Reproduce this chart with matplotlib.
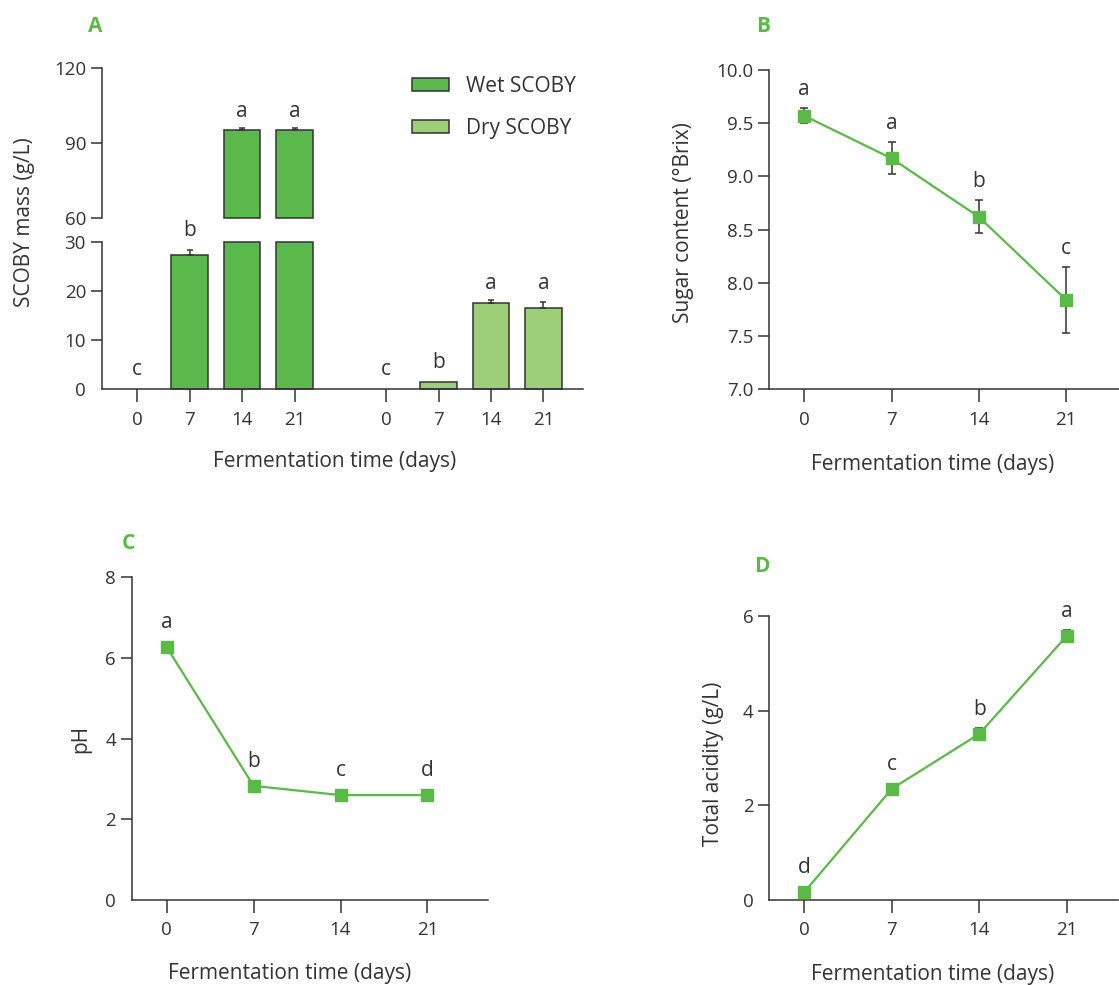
import matplotlib
matplotlib.use('Agg')
import matplotlib.pyplot as plt
from matplotlib.patches import Patch
import numpy as np

plt.rcParams['font.family'] = ['Open Sans', 'DejaVu Sans']

# ---------------- data ----------------
days = [0, 7, 14, 21]
day_labels = ['0', '7', '14', '21']

wet_mass = [0.0, 27.3, 95.0, 95.0]
wet_err = [0.0, 1.1, 1.0, 1.0]
wet_letters = ['c', 'b', 'a', 'a']
dry_mass = [0.0, 1.5, 17.6, 16.6]
dry_err = [0.0, 0.0, 0.6, 1.1]
dry_letters = ['c', 'b', 'a', 'a']

sugar = [9.57, 9.17, 8.62, 7.84]
sugar_err = [0.07, 0.15, 0.155, 0.31]
sugar_letters = ['a', 'a', 'b', 'c']

ph = [6.27, 2.83, 2.60, 2.60]
ph_letters = ['a', 'b', 'c', 'd']

acid = [0.17, 2.35, 3.51, 5.58]
acid_err = [0.0, 0.0, 0.12, 0.13]
acid_letters = ['d', 'c', 'b', 'a']

# ---------------- style ----------------
W, H = 1119, 985
DK = '#333333'
GREEN = '#5bb947'
WET = '#5bb84b'
DRY = '#9ccf78'
FS = 15      # axis labels, legend
TFS = 13.5   # tick labels
LFS = 15     # significance letters
LW = 1.1

fig = plt.figure(figsize=(W / 100, H / 100), dpi=100)


def ax_px(l, r, t, b):
    return fig.add_axes([l / W, 1 - b / H, (r - l) / W, (b - t) / H])


def style(ax, left_only=False):
    for s in ['top', 'right']:
        ax.spines[s].set_visible(False)
    for s in ['left', 'bottom']:
        ax.spines[s].set_color(DK)
        ax.spines[s].set_linewidth(LW)
    if left_only:
        ax.spines['bottom'].set_visible(False)
        ax.set_xticks([])
    ax.tick_params(axis='x', direction='out', length=9.4, width=LW, color=DK,
                   labelsize=TFS, labelcolor=DK, pad=6)
    ax.tick_params(axis='y', direction='out', length=8, width=LW, color=DK,
                   labelsize=TFS, labelcolor=DK, pad=3.5)
    ax.patch.set_visible(False)


def px_per_unit(ax):
    a = ax.transData.transform((0, 0))[1]
    b = ax.transData.transform((0, 1))[1]
    return b - a


# ---------------- panel A (broken axis) ----------------
pos_wet = np.array([0, 1, 2, 3], dtype=float)
pos_dry = pos_wet + 4.75
bw = 0.7
xl = (-0.674, 8.506)

axT = ax_px(102, 583, 67.7, 218.3)
axB = ax_px(102, 583, 241.7, 389.3)
for a in (axT, axB):
    a.set_xlim(*xl)
axT.set_ylim(60, 120)
axB.set_ylim(0, 30)
style(axT, left_only=True)
style(axB)
axT.set_yticks([60, 90, 120])
axB.set_yticks([0, 10, 20, 30])
axB.yaxis.get_major_ticks()[0].tick1line.set_visible(False)
axB.set_xticks(list(pos_wet) + list(pos_dry))
axB.set_xticklabels(day_labels + day_labels)

for pos, vals, errs, col, lets in [(pos_wet, wet_mass, wet_err, WET, wet_letters),
                                   (pos_dry, dry_mass, dry_err, DRY, dry_letters)]:
    vals = np.array(vals)
    errs = np.array(errs)
    low = np.minimum(vals, 30)
    bars = axB.bar(pos, low, width=bw, color=col, edgecolor=DK, linewidth=LW, zorder=2)
    for b, v in zip(bars, vals):
        b.set_clip_on(False)
        if v <= 0:
            b.set_visible(False)
    hi = vals > 60
    if hi.any():
        bt = axT.bar(pos[hi], vals[hi] - 60, bottom=60, width=bw, color=col,
                     edgecolor=DK, linewidth=LW, zorder=2)
        for b in bt:
            b.set_clip_on(False)
    for p, v, e, s in zip(pos, vals, errs, lets):
        target = axT if v > 60 else axB
        if e > 0:
            target.errorbar([p], [v], yerr=[[0], [e]], fmt='none', ecolor=DK,
                            elinewidth=LW, capsize=2.5, capthick=LW, zorder=3)
            gap = e * px_per_unit(target) + 8
        else:
            gap = 14
        target.annotate(s, xy=(p, v + e), xytext=(0, gap * 0.72),
                        textcoords='offset points', ha='center', va='baseline',
                        fontsize=LFS, color=DK, annotation_clip=False)

fig.text(24.6 / W, 1 - 221.7 / H, 'SCOBY mass (g/L)', rotation=90, ha='center',
         va='center', fontsize=FS, color=DK)
axB.set_xlabel('Fermentation time (days)', fontsize=FS, color=DK, va='center')
axB.xaxis.set_label_coords(0.484, -0.49)

leg = axB.legend(handles=[Patch(facecolor=WET, edgecolor=DK, linewidth=LW),
                          Patch(facecolor=DRY, edgecolor=DK, linewidth=LW)],
                 labels=['Wet SCOBY', 'Dry SCOBY'], loc='upper left',
                 bbox_to_anchor=(411.7 / W, 1 - 76.0 / H), bbox_transform=fig.transFigure,
                 frameon=False, borderpad=0, borderaxespad=0, fontsize=FS,
                 handlelength=1.78, handleheight=0.625, handletextpad=0.82,
                 labelspacing=1.0)
for t in leg.get_texts():
    t.set_color(DK)


# ---------------- line panels ----------------
def line_panel(ax, vals, errs, letters, ylim, yticks, yfmt, xlim, ylabel,
               ylab_xy, xlab_xy, zero_tick=False):
    ax.set_xlim(*xlim)
    ax.set_ylim(*ylim)
    style(ax)
    ax.set_yticks(yticks)
    ax.set_yticklabels([yfmt.format(v) for v in yticks])
    if not zero_tick:
        ax.yaxis.get_major_ticks()[0].tick1line.set_visible(False)
    ax.set_xticks(days)
    ax.set_xticklabels(day_labels)
    if errs is not None:
        ax.errorbar(days, vals, yerr=errs, fmt='none', ecolor=DK, elinewidth=LW,
                    capsize=3.2, capthick=LW, zorder=2)
    ax.plot(days, vals, color=GREEN, lw=1.6, marker='s', markersize=8.6,
            markerfacecolor=GREEN, markeredgecolor=GREEN, zorder=3, clip_on=False)
    ppu = px_per_unit(ax)
    for i, (x, v, s) in enumerate(zip(days, vals, letters)):
        e = errs[i] if errs is not None else 0
        gap = max(e * ppu, 6) + 13
        ax.annotate(s, xy=(x, v), xytext=(0, gap * 0.72), textcoords='offset points',
                    ha='center', va='baseline', fontsize=LFS, color=DK,
                    annotation_clip=False)
    ax.set_ylabel(ylabel, fontsize=FS, color=DK, va='center')
    ax.yaxis.set_label_coords(*ylab_xy)
    ax.set_xlabel('Fermentation time (days)', fontsize=FS, color=DK, va='center')
    ax.xaxis.set_label_coords(*xlab_xy)


axBx = ax_px(769, 1118.5, 70, 389.3)
line_panel(axBx, sugar, sugar_err, sugar_letters, (7.0, 10.0),
           [7.0, 7.5, 8.0, 8.5, 9.0, 9.5, 10.0], '{:.1f}', (-2.83, 25.2),
           'Sugar content (°Brix)', (-0.246, 0.522), (0.469, -0.234), zero_tick=True)

axC = ax_px(132, 488.3, 577.3, 900)
line_panel(axC, ph, None, ph_letters, (0, 8), [0, 2, 4, 6, 8], '{:d}', (-2.79, 25.9),
           'pH', (-0.143, 0.5), (0.441, -0.229))

axD = ax_px(769.3, 1118, 616, 900)
line_panel(axD, acid, acid_err, acid_letters, (0, 6), [0, 2, 4, 6], '{:d}', (-2.81, 25.1),
           'Total acidity (g/L)', (-0.159, 0.48), (0.469, -0.264))

# ---------------- panel letters ----------------
for s, x, y in [('A', 88, 32), ('B', 756, 32), ('C', 122, 549), ('D', 754, 572)]:
    fig.text(x / W, 1 - y / H, s, fontsize=15, fontweight='bold', color=GREEN,
             ha='left', va='baseline')

fig.savefig('out.png', dpi=100)
